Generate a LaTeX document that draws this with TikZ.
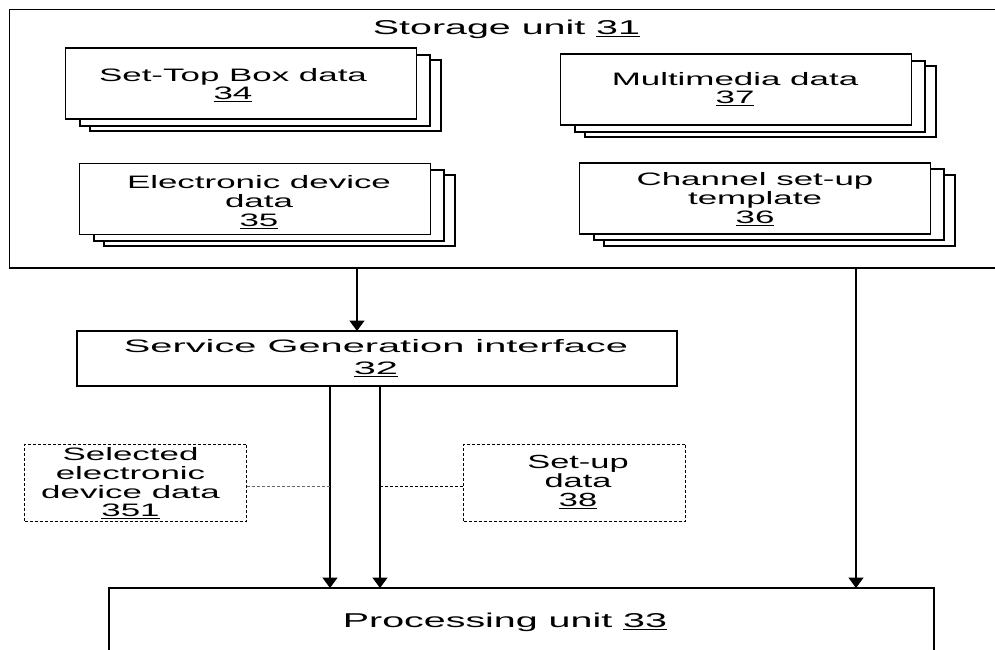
\documentclass[tikz,border=0pt]{standalone}
\usepackage{fontspec}
\setmainfont{Liberation Sans}[FakeStretch=1.97]
\newfontfamily\smallfam{Liberation Sans}[FakeStretch=1.94]
\newfontfamily\svcfam{Liberation Sans}[FakeStretch=2.21]
\newfontfamily\setupfam{Liberation Sans}[FakeStretch=1.81]
\usetikzlibrary{arrows.meta}
\newcommand{\lbl}{\smallfam\fontsize{18}{18.7}\selectfont}
\newcommand{\biglbl}{\fontsize{20}{20}\selectfont}
\newcommand{\svclbl}{\svcfam\fontsize{18}{22}\selectfont}
\newcommand{\setuplbl}{\setupfam\fontsize{19}{18.7}\selectfont}
\tikzset{
  x=1pt,y=-1pt,
  box/.style={draw=black,line width=1.5pt,fill=white,inner sep=0pt,outer sep=0pt,anchor=north west},
  dbox/.style={draw=black,line width=0.8pt,dash pattern=on 3pt off 2pt,inner sep=0pt,outer sep=0pt,anchor=north west},
  txt/.style={inner sep=0pt,align=center,font=\lbl},
  bigtxt/.style={inner sep=0pt,align=center,font=\biglbl},
  svctxt/.style={inner sep=0pt,align=center,font=\svclbl},
  setuptxt/.style={inner sep=0pt,align=center,font=\setuplbl},
  arr/.style={line width=1.5pt,-{Triangle[length=10.5pt,width=15pt]}},
  dlink/.style={line width=0.8pt,dash pattern=on 3pt off 2pt},
}
\begin{document}
\begin{tikzpicture}
\useasboundingbox (0,0) rectangle (995,649);
% storage
\node[box,minimum width=996pt,minimum height=258.5pt] (storage) at (9.5,9.5) {};
\node[bigtxt] (storagelbl) at (506.5,29) {Storage unit \underline{31}};
% set-top
\node[box,minimum width=351pt,minimum height=71pt] (a3) at (90,60) {};
\node[box,minimum width=350pt,minimum height=71pt] (a2) at (80,55) {};
\node[box,minimum width=351pt,minimum height=71pt] (a1) at (65.5,48) {};
\node[txt] (a1lbl) at (233,85) {Set-Top Box data\\\underline{34}};
% electronic
\node[box,minimum width=351pt,minimum height=71pt] (b3) at (104,175) {};
\node[box,minimum width=350pt,minimum height=71pt] (b2) at (94,170) {};
\node[box,minimum width=351pt,minimum height=71pt] (b1) at (79.5,163.5) {};
\node[txt] (b1lbl) at (259,202) {Electronic device\\data\\\underline{35}};
% multimedia
\node[box,minimum width=351pt,minimum height=71pt] (c3) at (585,66) {};
\node[box,minimum width=350pt,minimum height=71pt] (c2) at (575,61) {};
\node[box,minimum width=351pt,minimum height=71pt] (c1) at (560.5,54) {};
\node[txt] (c1lbl) at (735,89) {Multimedia data\\\underline{37}};
% channel
\node[box,minimum width=351pt,minimum height=71pt] (d3) at (604,175) {};
\node[box,minimum width=350pt,minimum height=71pt] (d2) at (594,169) {};
\node[box,minimum width=351pt,minimum height=71pt] (d1) at (579.5,163) {};
\node[txt] (d1lbl) at (755,199) {Channel set-up\\template\\\underline{36}};
% service
\node[box,minimum width=600pt,minimum height=55pt] (service) at (77,331) {};
\node[svctxt] (servicelbl) at (376,358) {Service Generation interface\\\underline{32}};
% processing
\node[box,minimum width=825pt,minimum height=100pt] (proc) at (109,588) {};
\node[bigtxt] (proclbl) at (505,622) {Processing unit \underline{33}};
% dashed
\node[dbox,minimum width=222pt,minimum height=77pt] (sel) at (24.5,444) {};
\node[txt] (sellbl) at (130.5,483.5) {Selected\\electronic\\device data\\\underline{351}};
\node[dbox,minimum width=222pt,minimum height=77pt] (setup) at (463.5,444) {};
\node[setuptxt] (setuplbl) at (578,482) {Set-up\\data\\\underline{38}};
% arrows
\coordinate (s1) at (357,268); \coordinate (s2) at (357,331);
\draw[arr] (s1) -- (s2);
\coordinate (p1) at (330,386); \coordinate (q1) at (330,588);
\draw[arr] (p1) -- (q1);
\coordinate (p2) at (380,386); \coordinate (q2) at (380,588);
\draw[arr] (p2) -- (q2);
\coordinate (p3) at (856,268); \coordinate (q3) at (856,588);
\draw[arr] (p3) -- (q3);
\draw[dlink,draw=black!60] (sel.east |- 0,486) -- (p1 |- 0,486);
\draw[dlink] (p2 |- 0,486) -- (setup.west |- 0,486);
\end{tikzpicture}
\end{document}
